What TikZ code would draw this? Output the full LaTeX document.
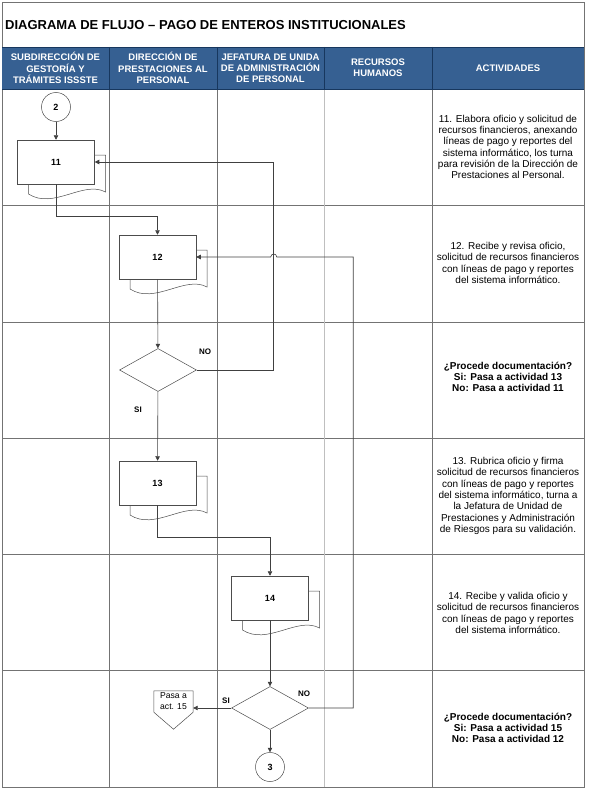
\documentclass[tikz,border=0pt]{standalone}
\usepackage{fontspec}
\setmainfont{Liberation Sans}
\usepackage{xcolor}
\usetikzlibrary{arrows.meta, positioning, calc, shapes.geometric}

\definecolor{hdrblue}{HTML}{366092}
\definecolor{hdrline}{HTML}{17375E}

% document with a second sheet behind it
\newcommand{\docpair}[3]{%
  \begin{scope}[shift={#2}]
    \draw[docback] (-27.5,-7) -- (49.5,-7) -- (49.5,30)
      .. controls (27.5,18) and (-2.5,48) .. (-27.5,32) -- cycle;
  \end{scope}
  \node[docbox] (#1) at #2 {#3};}

\begin{document}
\begin{tikzpicture}[
    x=1pt, y=-1pt,
    grid/.style={draw=black!55, line width=0.6pt},
    gridlt/.style={draw=black!25, line width=0.6pt},
    hdr/.style={align=center, text=white, font=\fontsize{9.5}{11.2}\bfseries},
    act/.style={align=center, font=\fontsize{10}{11.3}\selectfont},
    actb/.style={align=center, font=\fontsize{10}{11.3}\bfseries},
    docbox/.style={rectangle, draw=black!70, fill=white, line width=0.5pt, minimum width=77pt, minimum height=44pt, inner sep=0, font=\fontsize{9}{10}\bfseries},
    docback/.style={draw=black!70, fill=white, line width=0.5pt},
    offpage/.style={draw=black!70, line width=0.5pt},
    decision/.style={diamond, draw=black!70, fill=white, line width=0.5pt, minimum width=77pt, minimum height=43pt, inner sep=0},
    conn/.style={circle, draw=black!70, fill=white, line width=0.5pt, minimum size=29pt, inner sep=0, font=\fontsize{9}{10}\bfseries},
    lbl/.style={font=\fontsize{8}{10}\bfseries, inner sep=0},
    arr/.style={-{Triangle[length=4.5pt, width=4.5pt]}, draw=black!75, line width=0.6pt},
]
\useasboundingbox (0,0) rectangle (590,792);

% Title
\node[anchor=west, inner sep=0, font=\fontsize{13}{15}\bfseries] (title) at (5,25) {DIAGRAMA DE FLUJO – PAGO DE ENTEROS INSTITUCIONALES};

% Frame and grid
\draw[grid] (2,2) rectangle (584,787);
\draw[grid] (2,205.5) -- (584,205.5);
\draw[grid] (2,322) -- (584,322);
\draw[grid] (2,438) -- (584,438);
\draw[grid] (2,554.5) -- (584,554.5);
\draw[grid] (2,670.5) -- (584,670.5);
\draw[grid] (109,89) -- (109,787);
\draw[grid] (217,89) -- (217,787);
\draw[gridlt] (324,89) -- (324,787);
\draw[grid] (432,89) -- (432,787);

% Header band
\fill[hdrblue] (2,47) rectangle (584,89);
\draw[hdrline, line width=0.8pt] (2,47) -- (584,47) (2,89) -- (584,89)
  (109,47) -- (109,89) (217,47) -- (217,89) (324,47) -- (324,89) (432,47) -- (432,89);
\node[hdr] (hdr1) at (55.5,68) {SUBDIRECCIÓN DE\\GESTORÍA Y\\TRÁMITES ISSSTE};
\node[hdr] (hdr2) at (163,68) {DIRECCIÓN DE\\PRESTACIONES AL\\PERSONAL};
\node[hdr] (hdr3) at (270.5,68) {JEFATURA DE UNIDA\\DE ADMINISTRACIÓN\\DE PERSONAL};
\node[hdr] (hdr4) at (378,68) {RECURSOS\\HUMANOS};
\node[hdr] (hdr5) at (508,68) {ACTIVIDADES};

% Activity descriptions
\node[act] (act11) at (508,147) {11. Elabora oficio y solicitud de\\recursos financieros, anexando\\líneas de pago y reportes del\\sistema informático, los turna\\para revisión de la Dirección de\\Prestaciones al Personal.};
\node[act] (act12) at (508,263) {12. Recibe y revisa oficio,\\solicitud de recursos financieros\\con líneas de pago y reportes\\del sistema informático.};
\node[actb] (actd1) at (508,377) {¿Procede documentación?\\Si: Pasa a actividad 13\\No: Pasa a actividad 11};
\node[act] (act13) at (508,496) {13. Rubrica oficio y firma\\solicitud de recursos financieros\\con líneas de pago y reportes\\del sistema informático, turna a\\la Jefatura de Unidad de\\Prestaciones y Administración\\de Riesgos para su validación.};
\node[act] (act14) at (508,613) {14. Recibe y valida oficio y\\solicitud de recursos financieros\\con líneas de pago y reportes\\del sistema informático.};
\node[actb] (actd2) at (508,728) {¿Procede documentación?\\Si: Pasa a actividad 15\\No: Pasa a actividad 12};

% Flow shapes
\node[conn] (circ2) at (56,107) {2};
\docpair{doc11}{(56,162)}{11}
\docpair{doc12}{(157.5,257)}{12}
\node[decision] (dec1) at (158,370) {};
\docpair{doc13}{(157.5,483)}{13}
\docpair{doc14}{(270,598)}{14}
\node[decision] (dec2) at (270,708) {};
\node[conn] (circ3) at (270,767) {3};
\node[align=center, inner sep=0, minimum width=39pt, minimum height=21pt, font=\fontsize{8.6}{11}\selectfont] (pasa15) at (173.5,701.5) {Pasa a\\act. 15};
\draw[offpage] (pasa15.north west) -- (pasa15.north east) -- (pasa15.south east)
  -- ($(pasa15.south)+(0,17)$) -- (pasa15.south west) -- cycle;

% Decision labels
\node[lbl] (no1) at (205,352) {NO};
\node[lbl] (si1) at (138,410) {SI};
\node[lbl] (no2) at (304,694) {NO};
\node[lbl] (si2) at (226,701) {SI};

% Main flow
\draw[arr] (circ2) -- (doc11);
\draw[arr] (doc11.south) -- ++(0,32) -| (doc12.north);
\draw[arr] (doc12) -- (dec1);
\draw[arr] (dec1) -- (doc13);
\draw[arr] (doc13.south) -- ++(0,32) -| (doc14.north);
\draw[arr] (doc14) -- (dec2);
\draw[arr] (dec2) -- (circ3);
\draw[arr] (dec2.west) -- (dec2.west -| pasa15.east);

% Return paths
\draw[arr] (dec1.east) -- ++(77,0) |- (doc11.east);
\draw[arr] (dec2.east) -- ++(44.5,0) |- ($(doc12.east)+(80.5,0)$)
  .. controls ($(doc12.east)+(80.5,-4)$) and ($(doc12.east)+(74.5,-4)$) .. ($(doc12.east)+(74.5,0)$)
  -- (doc12.east);
\end{tikzpicture}
\end{document}
